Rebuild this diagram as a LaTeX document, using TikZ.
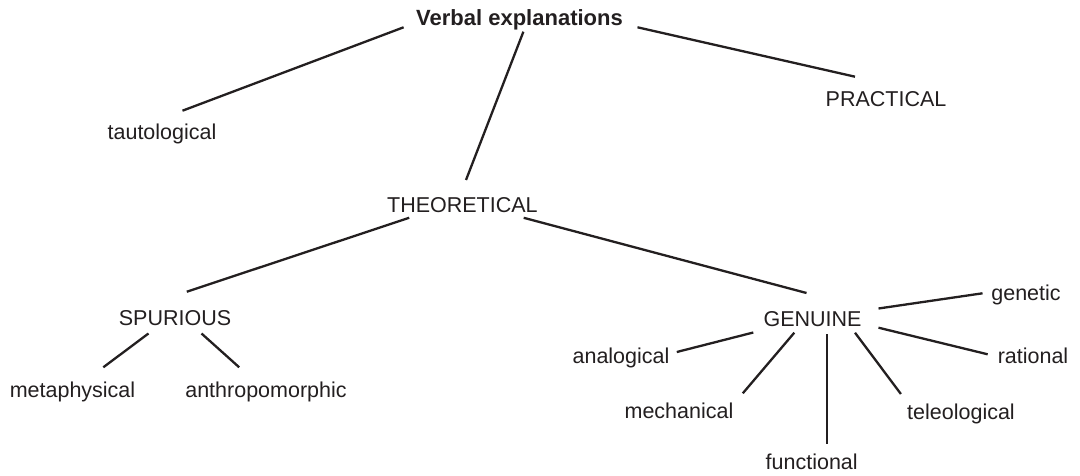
\documentclass[tikz,border=0pt]{standalone}
\usepackage{fontspec}
\setmainfont{Liberation Sans}
\definecolor{ink}{RGB}{35,31,32}
\begin{document}
\begin{tikzpicture}[x=1pt,y=-1pt,
  lbl/.style={anchor=base,inner sep=0pt,outer sep=0pt,text=ink,font=\fontsize{21.5}{25}\selectfont},
  boldlbl/.style={lbl,font=\fontsize{22}{26}\selectfont\bfseries},
  conn/.style={draw=ink,line width=2.3pt}]
\useasboundingbox[fill=white] (0,0) rectangle (1080,476);
% nodes
\node[boldlbl] (verbal) at (519.5,26) {Verbal explanations};
\node[lbl] (taut) at (162,139.3) {tautological};
\node[lbl] (prac) at (886,106.3) {PRACTICAL};
\node[lbl] (theo) at (462.4,212.7) {THEORETICAL};
\node[lbl] (spur) at (175,325) {SPURIOUS};
\node[lbl] (gen) at (812.5,326) {GENUINE};
\node[lbl] (meta) at (72.5,397) {metaphysical};
\node[lbl] (anthro) at (266,397) {anthropomorphic};
\node[lbl] (genetic) at (1026,300.7) {genetic};
\node[lbl] (analog) at (621,363.3) {analogical};
\node[lbl] (rational) at (1033,363.3) {rational};
\node[lbl] (mech) at (679,418.5) {mechanical};
\node[lbl] (teleo) at (961,419) {teleological};
\node[lbl] (func) at (811.7,469.3) {functional};
% connectors
\draw[conn] ([shift={(-115.9,1.3)}]verbal.base) -- ([shift={(20.5,-28.6)}]taut.base);
\draw[conn] ([shift={(3.9,5.7)}]verbal.base) -- ([shift={(3.6,-32.7)}]theo.base);
\draw[conn] ([shift={(118,1.3)}]verbal.base) -- ([shift={(-31,-29.6)}]prac.base);
\draw[conn] ([shift={(-53.2,5.1)}]theo.base) -- ([shift={(11.8,-33.3)}]spur.base);
\draw[conn] ([shift={(61.3,5.1)}]theo.base) -- ([shift={(-6,-33)}]gen.base);
\draw[conn] ([shift={(-26.5,8.5)}]spur.base) -- ([shift={(30.8,-29.7)}]meta.base);
\draw[conn] ([shift={(26.5,8.5)}]spur.base) -- ([shift={(-26.8,-29.7)}]anthro.base);
\draw[conn] ([shift={(66,-17.5)}]gen.base) -- ([shift={(-43.5,-7.4)}]genetic.base);
\draw[conn] ([shift={(-59.2,6.5)}]gen.base) -- ([shift={(55.8,-11.3)}]analog.base);
\draw[conn] ([shift={(66,1.7)}]gen.base) -- ([shift={(-45.3,-9)}]rational.base);
\draw[conn] ([shift={(-18.2,6.7)}]gen.base) -- ([shift={(63.8,-25.2)}]mech.base);
\draw[conn] ([shift={(14.2,8.3)}]gen.base) -- ([shift={(15,-25.3)}]func.base);
\draw[conn] ([shift={(42.5,6.7)}]gen.base) -- ([shift={(-60.1,-25)}]teleo.base);
\end{tikzpicture}
\end{document}
